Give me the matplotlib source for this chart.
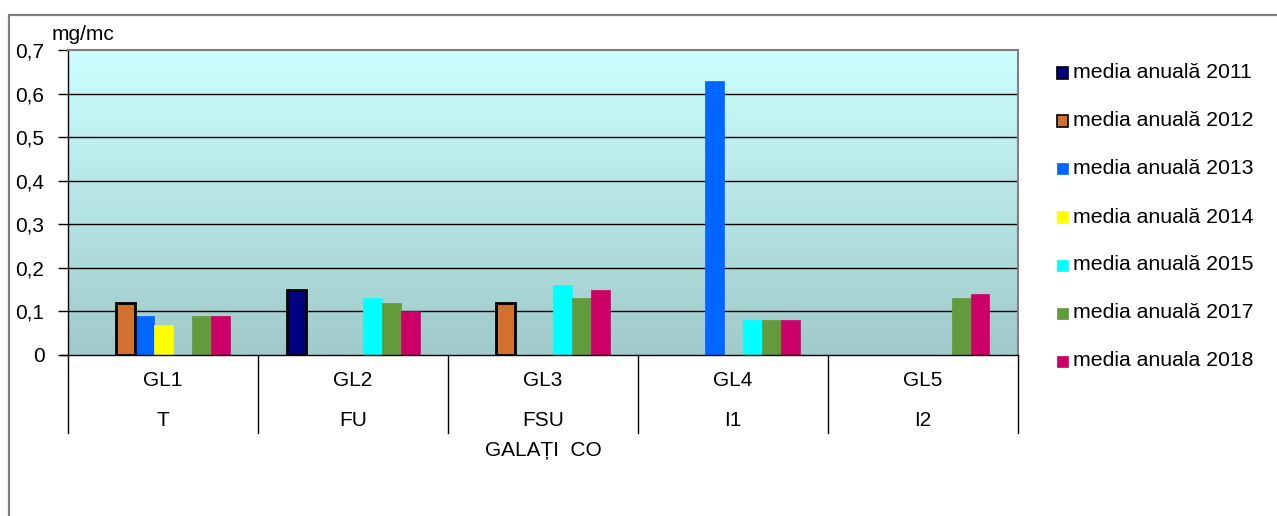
import numpy as np
import matplotlib
matplotlib.use("Agg")
import matplotlib.pyplot as plt
from matplotlib.patches import Rectangle
from matplotlib.lines import Line2D
from matplotlib.ticker import FuncFormatter

plt.rcParams['font.family'] = ['Liberation Sans', 'DejaVu Sans']

# Data
stations = ["GL1", "GL2", "GL3", "GL4", "GL5"]
station_types = ["T", "FU", "FSU", "I1", "I2"]
group_title = "GALAȚI  CO"
unit_label = "mg/mc"
series_labels = ["media anuală 2011", "media anuală 2012", "media anuală 2013",
                 "media anuală 2014", "media anuală 2015", "media anuală 2017",
                 "media anuala 2018"]
nan = np.nan
v2011 = [nan, 0.15, nan, nan, nan]
v2012 = [0.12, nan, 0.12, nan, nan]
v2013 = [0.09, nan, nan, 0.63, nan]
v2014 = [0.07, nan, nan, nan, nan]
v2015 = [nan, 0.13, 0.16, 0.08, nan]
v2017 = [0.09, 0.12, 0.13, 0.08, 0.13]
v2018 = [0.09, 0.10, 0.15, 0.08, 0.14]
y_ticks = [0, 0.1, 0.2, 0.3, 0.4, 0.5, 0.6, 0.7]

series_values = [v2011, v2012, v2013, v2014, v2015, v2017, v2018]
colors = ["#000080", "#D2702D", "#0066FF", "#FFFF00", "#00FFFF", "#629A3C", "#CC0066"]
outlined = [True, True, False, False, False, False, False]

W, H = 1277, 516
fig = plt.figure(figsize=(W / 100, H / 100), dpi=100)


def fx(x):
    return x / W


def fy(y):
    return 1 - y / H


# Outer chart frame
fig.add_artist(Rectangle((fx(9), fy(560)), fx(1300) - fx(9), fy(15) - fy(560),
                         transform=fig.transFigure, fill=False,
                         edgecolor="#808080", lw=1.6))

L, R, T, B = 68, 1018, 50, 355
ax = fig.add_axes([fx(L), fy(B), fx(R) - fx(L), fy(T) - fy(B)])
ax.set_xlim(0, len(stations))
ax.set_ylim(0, 0.7)

# Gradient plot background
grad = np.linspace(0, 1, 256)[:, None]
top = np.array([204, 255, 255]) / 255
bot = np.array([161, 202, 202]) / 255
img = top[None, None, :] * (1 - grad[:, :, None]) + bot[None, None, :] * grad[:, :, None]
ax.imshow(img, extent=[0, len(stations), 0, 0.7], aspect="auto", zorder=0,
          interpolation="bilinear")

for t in y_ticks[1:-1]:
    ax.axhline(t, color="black", lw=1.0, zorder=1)

n = len(series_values)
bw = 0.1
x = np.arange(len(stations))
for k, (vals, c, o) in enumerate(zip(series_values, colors, outlined)):
    pos = x + 0.5 + (k - (n - 1) / 2) * bw
    if o:
        ax.bar(pos, vals, width=bw, color=c, edgecolor="black", lw=2.0, zorder=3)
    else:
        ax.bar(pos, vals, width=bw, color=c, edgecolor=c, lw=0.5, zorder=2)

for s in ["top", "right"]:
    ax.spines[s].set_color("#808080")
    ax.spines[s].set_linewidth(1.5)
for s in ["left", "bottom"]:
    ax.spines[s].set_color("black")
    ax.spines[s].set_linewidth(1.0)

ax.set_yticks(y_ticks)
ax.yaxis.set_major_formatter(FuncFormatter(lambda v, p: ("%g" % round(v, 1)).replace(".", ",")))
ax.tick_params(axis="y", length=7, width=1, direction="out", labelsize=15, pad=10)
ax.set_xticks([])

# Category axis: separators and two label rows
for i in range(len(stations) + 1):
    xp = L + i * (R - L) / len(stations)
    fig.add_artist(Line2D([fx(xp), fx(xp)], [fy(B), fy(433)], color="black", lw=1.0,
                          transform=fig.transFigure))
fig.add_artist(Line2D([fx(61), fx(L)], [fy(B), fy(B)], color="black", lw=1.0,
                      transform=fig.transFigure))
for i, (s, t) in enumerate(zip(stations, station_types)):
    xc = L + (i + 0.5) * (R - L) / len(stations)
    fig.text(fx(xc), fy(381), s, ha="center", va="center", fontsize=15)
    fig.text(fx(xc), fy(420), t, ha="center", va="center", fontsize=15)
fig.text(fx((L + R) / 2), fy(451), group_title, ha="center", va="center", fontsize=15)

fig.text(fx(52), fy(35), unit_label, ha="left", va="center", fontsize=15)

# Legend
for k, (lab, c, o) in enumerate(zip(series_labels, colors, outlined)):
    yc = 73 + k * 48
    fig.add_artist(Rectangle((fx(1057), fy(yc + 5.5)), 11 / W, 11 / H,
                             transform=fig.transFigure, facecolor=c,
                             edgecolor="black" if o else c, lw=1.2 if o else 0.5))
    fig.text(fx(1073), fy(yc), lab, ha="left", va="center", fontsize=15.3)

fig.savefig("out.png", dpi=100)
